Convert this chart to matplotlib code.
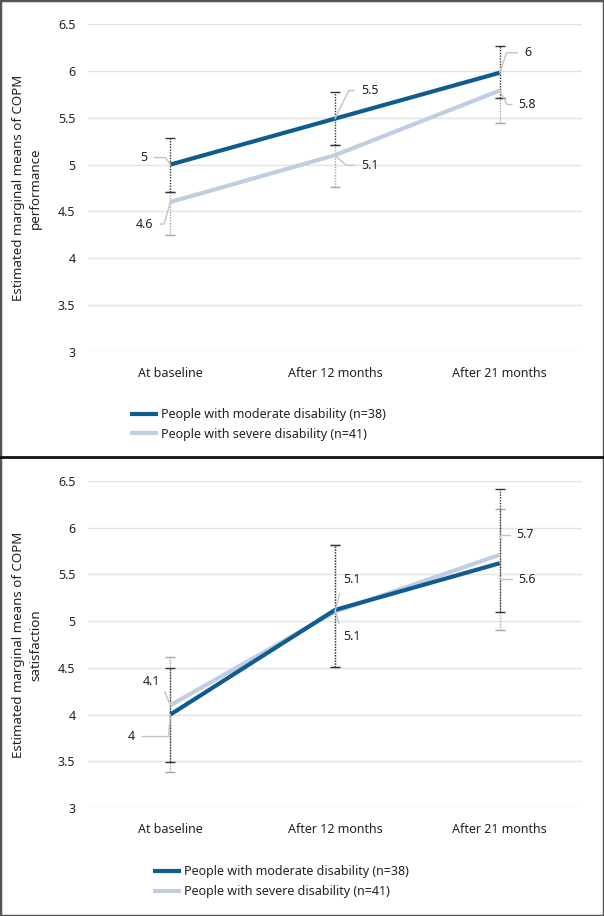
import matplotlib
matplotlib.use("Agg")
import matplotlib.pyplot as plt
from matplotlib.lines import Line2D

plt.rcParams['font.family'] = ['Noto Sans', 'DejaVu Sans']

categories = ["At baseline", "After 12 months", "After 21 months"]
series_names = ["People with moderate disability (n=38)",
                "People with severe disability (n=41)"]

# Panel 1: COPM performance
perf_moderate = [5.0, 5.49, 5.98]
perf_moderate_lo = [4.71, 5.21, 5.71]
perf_moderate_hi = [5.28, 5.77, 6.27]
perf_severe = [4.6, 5.1, 5.79]
perf_severe_lo = [4.25, 4.76, 5.44]
perf_severe_hi = [4.71, 5.21, 5.71]

# Panel 2: COPM satisfaction
sat_moderate = [4.0, 5.12, 5.62]
sat_moderate_lo = [3.49, 4.51, 5.10]
sat_moderate_hi = [4.50, 5.81, 6.41]
sat_severe = [4.1, 5.1, 5.71]
sat_severe_lo = [3.39, 4.51, 4.90]
sat_severe_hi = [4.62, 5.81, 6.20]

yticks = [3, 3.5, 4, 4.5, 5, 5.5, 6, 6.5]
ylabels = ["Estimated marginal means of COPM\nperformance",
           "Estimated marginal means of COPM\nsatisfaction"]

C_MOD = "#105c90"
C_SEV = "#c0cee3"
C_BAR_MOD = "#333333"
C_BAR_SEV = "#a8a8a8"
C_LEAD = "#c4c4c4"
C_TEXT = "#222222"
FS = 9.0

W, H = 604, 916
fig = plt.figure(figsize=(W / 100, H / 100), dpi=100)


def fx(px):
    return px / W


def fy(py):
    return 1 - py / H


def draw_bar(ax, x, lo, hi, color, z):
    ax.vlines(x, lo, hi, colors=color, linestyles=(0, (1, 1)), lw=1, zorder=z)
    ax.plot([x, x], [lo, hi], ls='none', marker='_', ms=7, mew=1,
            color=color, zorder=z)


def label(ax, x, y, text, off, side, angleB=None, shrinkB=0):
    ha = 'right' if side == 'L' else 'left'
    relpos = (1, 0.5) if side == 'L' else (0, 0.5)
    if angleB is None:
        cs = 'arc3'
    else:
        cs = f'angle,angleA=0,angleB={angleB},rad=0'
    ax.annotate(text, xy=(x, y), xytext=off, textcoords='offset pixels',
                ha=ha, va='center', fontsize=FS, color=C_TEXT, zorder=6,
                arrowprops=dict(arrowstyle='-', color=C_LEAD, lw=1,
                                shrinkA=3, shrinkB=shrinkB, relpos=relpos,
                                connectionstyle=cs))


def panel(ax_rect, mod, mod_lo, mod_hi, sev, sev_lo, sev_hi, ylab,
          ylab_y, leg_xy, labels_spec):
    ax = fig.add_axes(ax_rect)
    xs = [i + 0.5 for i in range(len(categories))]
    ax.set_xlim(0, len(categories))
    ax.set_ylim(3, 6.5)
    for x, lo, hi in zip(xs, sev_lo, sev_hi):
        draw_bar(ax, x, lo, hi, C_BAR_SEV, 2)
    for x, lo, hi in zip(xs, mod_lo, mod_hi):
        draw_bar(ax, x, lo, hi, C_BAR_MOD, 3)
    l_sev, = ax.plot(xs, sev, color=C_SEV, lw=3, solid_capstyle='butt',
                     zorder=4, label=series_names[1])
    l_mod, = ax.plot(xs, mod, color=C_MOD, lw=3, solid_capstyle='butt',
                     zorder=5, label=series_names[0])
    for spine in ax.spines.values():
        spine.set_visible(False)
    ax.set_yticks(yticks)
    ax.set_yticklabels([f"{t:g}" for t in yticks])
    ax.set_xticks(xs)
    ax.set_xticklabels(categories)
    ax.tick_params(axis='both', length=0, labelsize=FS, colors=C_TEXT)
    ax.tick_params(axis='y', pad=9)
    ax.tick_params(axis='x', pad=11)
    ax.grid(axis='y', color='#e3e3e3', lw=1, zorder=0)
    ax.set_axisbelow(True)
    fig.text(fx(27), ylab_y, ylab, rotation=90, ha='center', va='center',
             fontsize=9.6, color=C_TEXT, multialignment='center',
             linespacing=1.45)
    for (series, idx, off, side, ang, shr) in labels_spec:
        vals = mod if series == 'm' else sev
        v = vals[idx]
        label(ax, xs[idx], v, f"{round(v, 1):g}", off, side, ang, shr)
    fig.legend(handles=[l_mod, l_sev], loc='upper left',
               bbox_to_anchor=leg_xy, frameon=False, fontsize=FS,
               handlelength=2.2, handletextpad=0.25, labelspacing=0.55,
               borderpad=0, borderaxespad=0, labelcolor=C_TEXT)
    return ax


top_labels = [
    ('m', 0, (-23, 7), 'L', 124, 0),
    ('s', 0, (-17, -22), 'L', 74, 0),
    ('m', 1, (26, 28), 'R', 64, 0),
    ('s', 1, (26, -10), 'R', -42, 0),
    ('m', 2, (25, 20), 'R', 71, 0),
    ('s', 2, (19, -14), 'R', -62, 0),
]
bot_labels = [
    ('s', 0, (-10, 24), 'L', None, 0),
    ('m', 0, (-35, -22), 'L', 85, 0),
    ('s', 1, (8, 32), 'R', None, 0),
    ('m', 1, (8, -27), 'R', None, 0),
    ('s', 2, (17, 20), 'R', 90, 13),
    ('m', 2, (19, -16), 'R', 90, 10),
]

panel([fx(88), fy(352), fx(582) - fx(88), fy(24) - fy(352)],
      perf_moderate, perf_moderate_lo, perf_moderate_hi,
      perf_severe, perf_severe_lo, perf_severe_hi,
      ylabels[0], fy(188), (fx(130), fy(408)), top_labels)

panel([fx(88), fy(808), fx(582) - fx(88), fy(481) - fy(808)],
      sat_moderate, sat_moderate_lo, sat_moderate_hi,
      sat_severe, sat_severe_lo, sat_severe_hi,
      ylabels[1], fy(645), (fx(153), fy(865)), bot_labels)

# frame and divider
fig.add_artist(plt.Rectangle((0, 0), 1, 1, transform=fig.transFigure,
                             fill=False, edgecolor='#555555', lw=2.5))
fig.add_artist(Line2D([0, 1], [fy(457), fy(457)], transform=fig.transFigure,
                      color='#111111', lw=2))

fig.savefig("out.png", dpi=100)
